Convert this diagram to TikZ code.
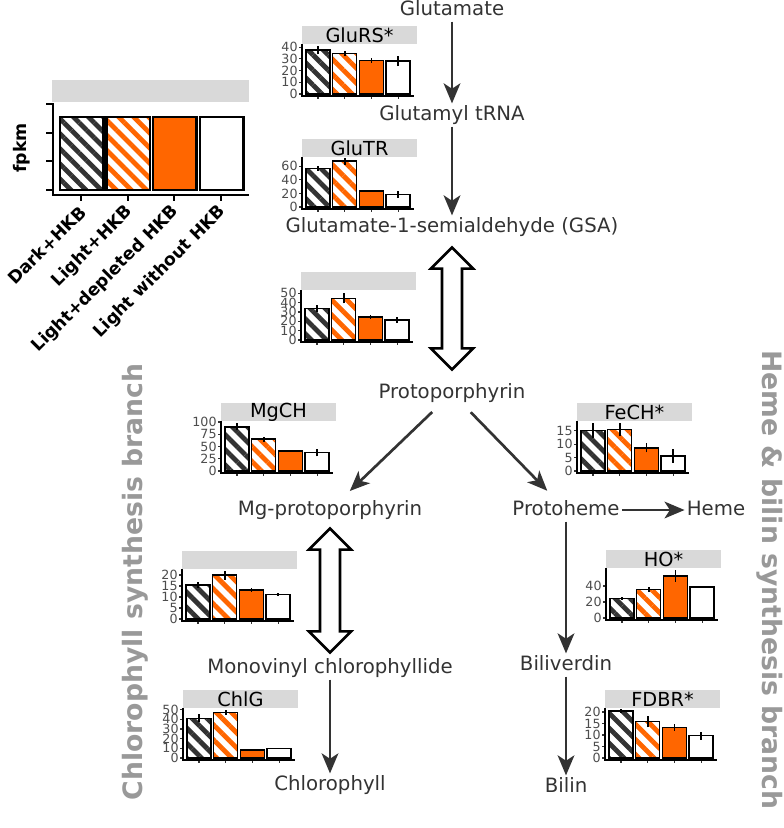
\documentclass[tikz,border=0pt]{standalone}
\usepackage{fontspec}
\setmainfont{DejaVu Sans}
\usetikzlibrary{arrows.meta,positioning,calc,patterns.meta}

\definecolor{ink}{HTML}{333333}
\definecolor{hkborange}{HTML}{FF6600}
\definecolor{stripgray}{HTML}{D9D9D9}
\definecolor{ticktext}{HTML}{4D4D4D}
\definecolor{branchgray}{HTML}{999999}

\tikzset{
  bar1/.style={draw=black, line width=1.1pt, preaction={fill=white},
    preaction={pattern={Lines[angle=-45,distance=8pt,line width=3.6pt]}, pattern color=ink}},
  bar2/.style={draw=black, line width=1.1pt, preaction={fill=white},
    preaction={pattern={Lines[angle=-45,distance=8pt,line width=3.6pt]}, pattern color=hkborange}},
  bar3/.style={draw=black, line width=1.1pt, fill=hkborange},
  bar4/.style={draw=black, line width=1.1pt, fill=white}
}

% small faceted bar chart: name, axis x, axis y, title, px per unit, ticks, value/error
\newcommand\minichart[7]{%
  \begin{scope}[shift={(#2,#3)}]
    \fill[stripgray] (0,-70) rectangle (115,-52);
    \node[striplab] (#1) at (57.5,-61) {#4};
    \foreach \bv/\be [count=\i] in {#7} {
      \pgfmathsetmacro\bl{4+(\i-1)*26.7}
      \path[bar\i] (\bl,-2) rectangle (\bl+24,{-2-\bv*#5});
      \draw[errbar] (\bl+12,{-2-(\bv-\be)*#5}) -- (\bl+12,{-2-(\bv+\be)*#5});
      \draw[tick] (\bl+12,0) -- (\bl+12,3);
    }
    \foreach \tk in {#6} {
      \draw[tick] (0,{-2-\tk*#5}) -- (-3,{-2-\tk*#5});
      \node[ticklab] (#1-\tk) at (-3.5,{-2-\tk*#5}) {\tk};
    }
    \draw[axisline] (0,-52) -- (0,0) -- (112,0);
  \end{scope}}

\begin{document}
\begin{tikzpicture}[x=0.75pt, y=-0.75pt,
  lab/.style={font=\fontsize{14.8}{17}\selectfont, text=ink, inner sep=1.5pt,
    text height=11pt, text depth=3pt},
  arr/.style={-{Stealth[length=15pt,width=12.5pt,inset=4pt]}, line width=2pt, draw=ink},
  hollow/.style={draw=black, fill=white, line width=2pt, to path={
    let \p1=(\tikztostart), \p2=(\tikztotarget) in
    (\x1,\y1) -- (\x1+15.75pt,\y1-15.75pt) -- (\x1+7.5pt,\y1-15.75pt)
    -- (\x2+7.5pt,\y2+15.75pt) -- (\x2+15.75pt,\y2+15.75pt) -- (\x2,\y2)
    -- (\x2-15.75pt,\y2+15.75pt) -- (\x2-7.5pt,\y2+15.75pt)
    -- (\x1-7.5pt,\y1-15.75pt) -- (\x1-15.75pt,\y1-15.75pt) -- cycle}},
  striplab/.style={font=\fontsize{14.5}{14.5}\selectfont, inner sep=0pt},
  ticklab/.style={font=\fontsize{9.5}{10}\selectfont, text=ticktext, anchor=east, inner sep=0.5pt},
  tick/.style={line width=0.8pt, draw=ink},
  axisline/.style={line width=1.3pt},
  errbar/.style={line width=1.3pt},
  branch/.style={font=\fontsize{20}{22}\selectfont\bfseries, text=branchgray},
  leglab/.style={font=\fontsize{13}{15}\selectfont\bfseries, inner sep=1pt}]

\useasboundingbox (0,0) rectangle (783,828);

% legend panel
\fill[stripgray] (52,80) rectangle (249,102);
\foreach \xl [count=\i] in {60,106.5,153,200}
  \path[bar\i, line width=1.9pt] (\xl,190) rectangle (\xl+43.5,117);
\foreach \yy in {104,133,161,190}
  \draw[line width=1.5pt] (53,\yy) -- (46,\yy);
\foreach \xx in {81,128,174,221}
  \draw[line width=1.5pt] (\xx,195) -- (\xx,201);
\draw[line width=1.9pt] (53,103) -- (53,195) -- (249,195);
\node[leglab, rotate=90] (fpkm) at (22,148) {fpkm};
\node[leglab, rotate=45, anchor=east] (ldark) at (84,208) {Dark+HKB};
\node[leglab, rotate=45, anchor=east] (llight) at (131,208) {Light+HKB};
\node[leglab, rotate=45, anchor=east] (ldepl) at (177,208) {Light+depleted HKB};
\node[leglab, rotate=45, anchor=east] (lwo) at (224,208) {Light without HKB};

% pathway
\node[lab] (glu) at (452,10) {Glutamate};
\node[lab] (glutrna) at (452,115) {Glutamyl tRNA};
\node[lab] (gsa) at (452,227) {Glutamate-1-semialdehyde (GSA)};
\node[lab] (proto) at (452,393) {Protoporphyrin};
\node[lab] (mgproto) at (330,510) {Mg-protoporphyrin};
\node[lab] (protoheme) at (566,510) {Protoheme};
\node[lab] (heme) at (716,510) {Heme};
\node[lab] (mvchl) at (330,668) {Monovinyl chlorophyllide};
\node[lab] (chl) at (330,785) {Chlorophyll};
\node[lab] (biliv) at (566,665) {Biliverdin};
\node[lab] (bilin) at (566,787) {Bilin};

\draw[arr] (glu) -- (glutrna);
\draw[arr] (glutrna) -- (gsa);
\coordinate (gsatop) at ($(gsa.south)+(0,9)$);
\coordinate (protobot) at ($(proto.north)+(0,-12)$);
\draw[hollow] (gsatop) to (protobot);
\draw[arr, shorten <=8pt, shorten >=8pt] (proto) -- (mgproto);
\draw[arr, shorten <=8pt, shorten >=8pt] (proto) -- (protoheme);
\draw[arr] (protoheme) -- (heme);
\coordinate (mgtop) at ($(mgproto.south)+(0,7)$);
\coordinate (mvbot) at ($(mvchl.north)+(0,-4)$);
\draw[hollow] (mgtop) to (mvbot);
\draw[arr] (mvchl) -- (chl);
\draw[arr] (protoheme) -- (biliv);
\draw[arr] (biliv) -- (bilin);

% enzyme panels
\minichart{glurs}{302}{96}{GluRS*}{1.17}{0,10,20,30,40}{37.6/3.7, 34.8/2, 28.8/2, 28.2/4.3}
\minichart{glutr}{302}{209}{GluTR}{0.677}{0,20,40,60}{56.9/3, 67.7/5, 23.9/1, 18.5/5}
\minichart{gsaproto}{301}{342}{}{0.933}{0,10,20,30,40,50}{34/3.6, 44.7/5.4, 24.6/2, 21.4/3.2}
\minichart{mgch}{221}{473}{MgCH}{0.49}{0,25,50,75,100}{90/7, 65/5.4, 41/2, 37.5/7.5}
\minichart{fech}{577}{473}{FeCH*}{2.67}{0,5,10,15}{15.1/2.9, 15.5/2.5, 8.7/1.7, 5.6/2.6}
\minichart{mgmv}{182}{621}{}{2.2}{0,5,10,15,20}{15.4/1.3, 19.9/2, 13.1/0.8, 11.1/0.7}
\minichart{chlg}{183}{760}{ChlG}{0.967}{0,10,20,30,40,50}{41/4, 46.9/2.6, 8.3/0.5, 10/0.5}
\minichart{ho}{606}{620}{HO*}{0.8}{0,20,40}{24.6/2, 35.8/3, 52.5/7, 39/0.5}
\minichart{fdbr}{605}{760}{FDBR*}{2.3}{0,5,10,15,20}{20.4/0.7, 15.8/2.5, 13.3/1.4, 9.7/1.8}

% branch labels
\node[branch, rotate=90] (chlbranch) at (135,582) {Chlorophyll synthesis branch};
\node[branch, rotate=-90] (hemebranch) at (770,580) {Heme \& bilin synthesis branch};

\end{tikzpicture}
\end{document}
